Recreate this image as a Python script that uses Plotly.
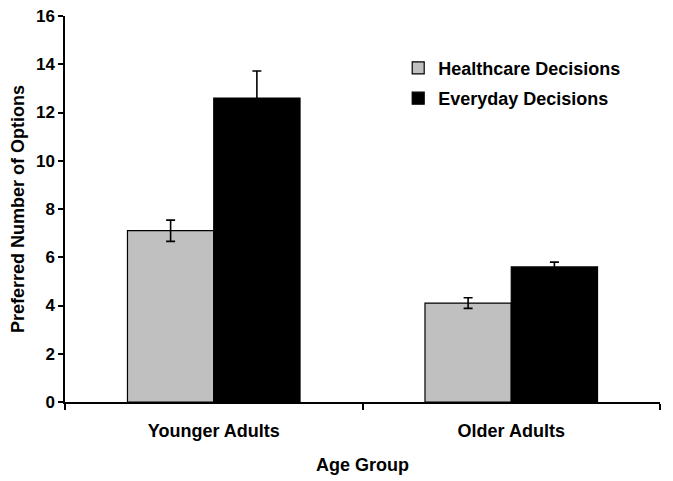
import plotly.graph_objects as go

categories = ["Younger Adults", "Older Adults"]
healthcare = [7.1, 4.1]
healthcare_err = [0.44, 0.22]
everyday = [12.6, 5.6]
everyday_err = [1.12, 0.2]
y_ticks = [0, 2, 4, 6, 8, 10, 12, 14, 16]

FONT = "Liberation Sans"

fig = go.Figure()
fig.add_trace(go.Bar(
    x=categories, y=healthcare, name="<b>Healthcare Decisions</b>",
    marker=dict(color="#c0c0c0", line=dict(color="black", width=1.2)),
    error_y=dict(type="data", array=healthcare_err, color="black", thickness=1.6, width=4.5),
    legendgroup="a",
))
fig.add_trace(go.Bar(
    x=categories, y=everyday, name="<b>Everyday Decisions</b>",
    marker=dict(color="black", line=dict(color="black", width=1.2)),
    error_y=dict(type="data", array=everyday_err, color="black", thickness=1.6, width=4.5),
    legendgroup="b",
))

fig.update_layout(
    width=665, height=473,
    margin=dict(l=57, r=13, t=8, b=79, autoexpand=False),
    paper_bgcolor="white", plot_bgcolor="white",
    barmode="group", bargap=0.42, bargroupgap=0,
    font=dict(family=FONT, color="black"),
    showlegend=True,
    legend=dict(
        x=0.56, y=0.913, xanchor="left", yanchor="top",
        font=dict(size=18, family=FONT, color="black"),
        bgcolor="rgba(0,0,0,0)", tracegroupgap=4, traceorder="grouped",
    ),
    xaxis=dict(
        type="category", showline=True, linecolor="black", linewidth=1.5,
        ticks="outside", tickson="boundaries", ticklen=6, tickwidth=1.5, tickcolor="black",
        tickfont=dict(size=18, family=FONT, color="black"),
        title=dict(text="<b>Age Group</b>", font=dict(size=18, family=FONT), standoff=18),
        ticklabelstandoff=12,
        showgrid=False, zeroline=False, automargin=False,
    ),
    yaxis=dict(
        range=[0, 16], tickvals=y_ticks, ticktext=[f"<b>{v}</b>" for v in y_ticks],
        showline=True, linecolor="black", linewidth=1.5,
        ticks="outside", ticklen=5, tickwidth=1.5, tickcolor="black",
        tickfont=dict(size=17, family=FONT, color="black"),
        ticklabeloverflow="allow",
        title=dict(text="<b>Preferred Number of Options</b>", font=dict(size=18, family=FONT), standoff=7),
        showgrid=False, zeroline=False, automargin=False,
    ),
)
fig.update_xaxes(tickvals=categories, ticktext=[f"<b>{c}</b>" for c in categories])

fig.write_html("out.html")
